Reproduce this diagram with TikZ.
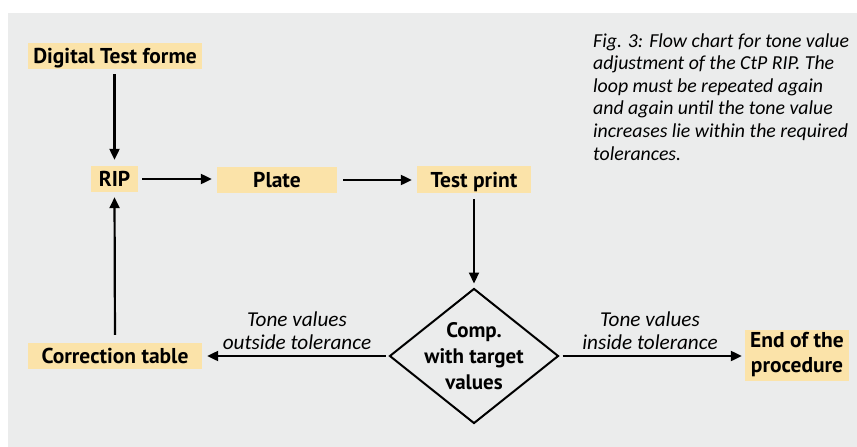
\documentclass[tikz,border=0pt]{standalone}
\usepackage{fontspec}
\setmainfont{PT Sans}
\newfontfamily\boxfont{PT Sans}[BoldFont={PT Sans Bold}]
\newfontfamily\capfont{Carlito}
\usetikzlibrary{shapes.geometric,arrows.meta}
\definecolor{panel}{HTML}{EBECEC}
\definecolor{boxfill}{HTML}{FBE3A9}
\begin{document}
\begin{tikzpicture}[x=1pt,y=-1pt,
  stepbox/.style={fill=boxfill, inner sep=0pt, align=center,
    font=\boxfont\bfseries\fontsize{21.5}{25}\selectfont},
  linebox/.style={stepbox, text height=17pt, text depth=2pt},
  decision/.style={diamond, draw, line width=2pt, inner sep=0pt,
    minimum width=169pt, minimum height=135pt},
  decisiontext/.style={align=center, inner sep=0pt,
    font=\boxfont\bfseries\fontsize{21}{26}\selectfont},
  flow/.style={line width=2.2pt, -{Triangle[length=11pt,width=10pt]}},
  edgelabel/.style={align=center, font=\capfont\itshape\fontsize{21.2}{23}\selectfont},
]
% canvas and grey panel
\useasboundingbox (0,0) rectangle (857,447);
\fill[white] (0,0) rectangle (857,447);
\fill[panel] (8,13) rectangle (857,447);

% process steps
\node[linebox, minimum width=174pt, minimum height=26pt] (dtf) at (115,56) {Digital Test forme};
\node[linebox, minimum width=47pt, minimum height=26pt] (rip) at (114.5,179) {RIP};
\node[linebox, minimum width=120pt, minimum height=26pt] (plate) at (277,180) {Plate};
\node[linebox, minimum width=114pt, minimum height=27pt] (test) at (474,179.5) {Test print};
\node[decision] (comp) at (474,356) {};
\node[decisiontext] (comptext) at (comp.center) {Comp.\\with target\\values};
\node[linebox, minimum width=174pt, minimum height=26pt] (corr) at (115,356) {Correction table};
\node[stepbox, minimum width=104pt, minimum height=51pt] (end) at (797,355) {End of the\\procedure};

% connectors
\draw[flow, shorten <=5pt, shorten >=6pt] (dtf.south -| rip) -- (rip.north);
\draw[flow, shorten <=4pt, shorten >=5pt] (rip.east) -- (rip.east -| plate.west);
\draw[flow, shorten <=6pt, shorten >=5pt] (plate.east) -- (plate.east -| test.west);
\draw[flow, shorten <=6pt, shorten >=4pt] (test.south) -- (comp.north);
\draw[flow, shorten <=3pt, shorten >=5pt] (comp.west) -- (comp.west -| corr.east);
\draw[flow, shorten <=8pt, shorten >=5pt] (corr.north) -- (rip.south);
\draw[flow, shorten <=3pt, shorten >=3pt] (comp.east) -- (comp.east -| end.west);

% branch labels
\node[edgelabel, anchor=south] (outlbl) at (297,353) {Tone values\\outside tolerance};
\node[edgelabel, anchor=south] (inlbl) at (650,353) {Tone values\\inside tolerance};

% caption (the base anchor of a multi-line node sits on its last line)
\node[anchor=base west, inner sep=0pt, align=left,
  font=\capfont\itshape\fontsize{19.8}{22.6}\selectfont] (caption) at (593,160)
  {Fig. 3: Flow chart for tone value\\
   adjustment of the CtP RIP. The\\
   loop must be repeated again\\
   and again until the tone value\\
   increases lie within the required\\
   tolerances.};
\end{tikzpicture}
\end{document}
